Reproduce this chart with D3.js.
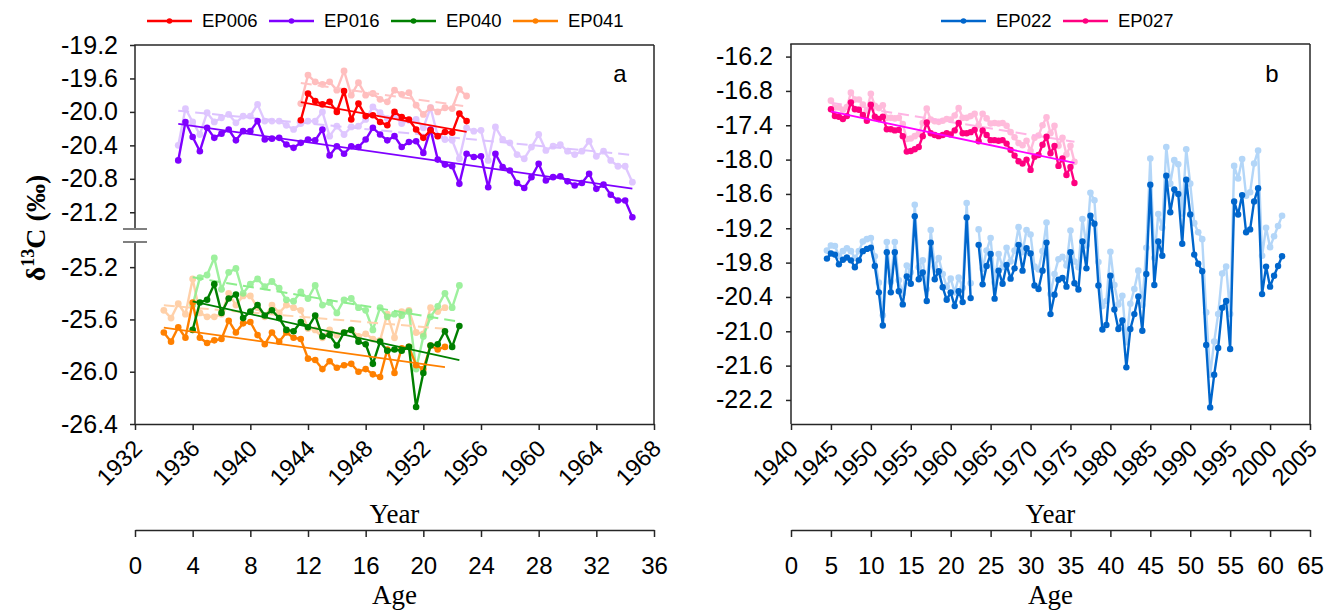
<!DOCTYPE html>
<html><head><meta charset="utf-8">
<script src="https://cdn.jsdelivr.net/npm/d3@7"></script>
<style>body{margin:0;background:#fff}svg{display:block}</style>
</head><body>
<svg id="chart" width="1328" height="613"></svg>
<script>
// ---------------- DATA ----------------
const ep016Years = [1935,1935.5,1936,1936.5,1937,1937.5,1938,1938.5,1939,1939.5,1940,1940.5,1941,1941.5,1942,1942.5,1943,1943.5,1944,1944.5,1945,1945.5,1946,1946.5,1947,1947.5,1948,1948.5,1949,1949.5,1950,1950.5,1951,1951.5,1952,1952.5,1953,1953.5,1954,1954.5,1955,1955.5,1956,1956.5,1957,1957.5,1958,1958.5,1959,1959.5,1960,1960.5,1961,1961.5,1962,1962.5,1963,1963.5,1964,1964.5,1965,1965.5,1966,1966.5];
const ep016Raw = [-20.58,-20.12,-20.30,-20.47,-20.19,-20.31,-20.26,-20.21,-20.34,-20.23,-20.23,-20.11,-20.33,-20.32,-20.31,-20.39,-20.43,-20.37,-20.33,-20.34,-20.21,-20.52,-20.41,-20.50,-20.41,-20.42,-20.33,-20.19,-20.27,-20.34,-20.29,-20.42,-20.36,-20.35,-20.49,-20.21,-20.57,-20.63,-20.65,-20.86,-20.50,-20.54,-20.53,-20.90,-20.50,-20.66,-20.70,-20.85,-20.91,-20.78,-20.62,-20.82,-20.78,-20.77,-20.83,-20.88,-20.85,-20.74,-20.92,-20.87,-20.99,-21.06,-21.06,-21.26];
const ep016Corr = [-20.40,-19.96,-20.12,-20.27,-20.01,-20.12,-20.07,-20.03,-20.13,-20.05,-20.05,-19.91,-20.11,-20.11,-20.11,-20.16,-20.21,-20.14,-20.11,-20.11,-20.00,-20.29,-20.17,-20.27,-20.18,-20.17,-20.09,-19.94,-20.01,-20.08,-20.04,-20.14,-20.10,-20.09,-20.19,-19.95,-20.29,-20.33,-20.34,-20.56,-20.19,-20.23,-20.22,-20.58,-20.18,-20.33,-20.37,-20.51,-20.56,-20.42,-20.27,-20.46,-20.41,-20.39,-20.47,-20.51,-20.47,-20.35,-20.53,-20.47,-20.58,-20.65,-20.65,-20.84];

const ep006Years = [1943.5,1944,1944.5,1945,1945.5,1946,1946.5,1947,1947.5,1948,1948.5,1949,1949.5,1950,1950.5,1951,1951.5,1952,1952.5,1953,1953.5,1954,1954.5,1955];
const ep006Raw = [-20.10,-19.78,-19.87,-19.91,-19.88,-20.00,-19.75,-20.09,-19.90,-20.05,-20.04,-20.12,-20.16,-20.00,-20.06,-20.09,-20.21,-20.31,-20.22,-20.29,-20.24,-20.25,-20.02,-20.11];
const ep006Corr = [-19.90,-19.56,-19.64,-19.67,-19.64,-19.74,-19.51,-19.80,-19.65,-19.80,-19.78,-19.85,-19.88,-19.74,-19.79,-19.77,-19.92,-20.03,-19.95,-20.00,-19.95,-19.96,-19.73,-19.81];

const ep040Years = [1936,1936.5,1937,1937.5,1938,1938.5,1939,1939.5,1940,1940.5,1941,1941.5,1942,1942.5,1943,1943.5,1944,1944.5,1945,1945.5,1946,1946.5,1947,1947.5,1948,1948.5,1949,1949.5,1950,1950.5,1951,1951.5,1952,1952.5,1953,1953.5,1954,1954.5];
const ep040Raw = [-25.68,-25.47,-25.45,-25.33,-25.55,-25.44,-25.41,-25.59,-25.54,-25.49,-25.57,-25.53,-25.59,-25.68,-25.69,-25.62,-25.66,-25.57,-25.73,-25.72,-25.80,-25.70,-25.68,-25.77,-25.79,-25.94,-25.77,-25.84,-25.83,-25.84,-25.81,-26.27,-26.01,-25.80,-25.79,-25.69,-25.81,-25.65];
const ep040Corr = [-25.49,-25.28,-25.26,-25.13,-25.37,-25.24,-25.21,-25.40,-25.33,-25.29,-25.35,-25.31,-25.36,-25.45,-25.46,-25.39,-25.44,-25.34,-25.49,-25.47,-25.55,-25.45,-25.44,-25.51,-25.53,-25.68,-25.51,-25.58,-25.56,-25.57,-25.54,-25.98,-25.73,-25.58,-25.50,-25.40,-25.51,-25.34];

const ep041Years = [1934,1934.5,1935,1935.5,1936,1936.5,1937,1937.5,1938,1938.5,1939,1939.5,1940,1940.5,1941,1941.5,1942,1942.5,1943,1943.5,1944,1944.5,1945,1945.5,1946,1946.5,1947,1947.5,1948,1948.5,1949,1949.5,1950,1950.5,1951,1951.5,1952,1952.5,1953,1953.5];
const ep041Raw = [-25.70,-25.77,-25.66,-25.74,-25.47,-25.74,-25.78,-25.76,-25.75,-25.61,-25.70,-25.63,-25.62,-25.72,-25.79,-25.70,-25.77,-25.70,-25.74,-25.75,-25.90,-25.91,-25.98,-25.92,-25.97,-25.95,-25.94,-26.00,-25.98,-26.02,-26.04,-25.83,-26.01,-25.82,-25.81,-25.95,-25.98,-25.80,-25.83,-25.81];
const ep041Corr = [-25.53,-25.59,-25.48,-25.56,-25.29,-25.55,-25.58,-25.58,-25.56,-25.40,-25.49,-25.42,-25.42,-25.51,-25.58,-25.49,-25.55,-25.49,-25.51,-25.53,-25.67,-25.68,-25.74,-25.68,-25.72,-25.70,-25.68,-25.73,-25.71,-25.75,-25.76,-25.56,-25.74,-25.54,-25.53,-25.70,-25.71,-25.51,-25.54,-25.51];

const ep027Years = [1945,1945.5,1946,1946.5,1947,1947.5,1948,1948.5,1949,1949.5,1950,1950.5,1951,1951.5,1952,1952.5,1953,1953.5,1954,1954.5,1955,1955.5,1956,1956.5,1957,1957.5,1958,1958.5,1959,1959.5,1960,1960.5,1961,1961.5,1962,1962.5,1963,1963.5,1964,1964.5,1965,1965.5,1966,1966.5,1967,1967.5,1968,1968.5,1969,1969.5,1970,1970.5,1971,1971.5,1972,1972.5,1973,1973.5,1974,1974.5,1975,1975.5];
const ep027Raw = [-17.12,-17.24,-17.25,-17.29,-17.24,-17.00,-17.12,-17.13,-17.22,-17.32,-17.04,-17.25,-17.29,-17.25,-17.47,-17.47,-17.49,-17.48,-17.59,-17.86,-17.85,-17.82,-17.78,-17.59,-17.35,-17.54,-17.57,-17.59,-17.57,-17.54,-17.56,-17.49,-17.36,-17.54,-17.54,-17.52,-17.48,-17.68,-17.49,-17.57,-17.66,-17.66,-17.67,-17.66,-17.72,-17.83,-17.93,-18.03,-18.07,-18.00,-18.18,-17.95,-17.92,-17.74,-17.60,-17.89,-17.76,-18.11,-17.98,-18.27,-18.13,-18.41];
const ep027Corr = [-16.97,-17.09,-17.09,-17.13,-17.08,-16.83,-16.95,-16.95,-17.04,-17.14,-16.85,-17.06,-17.10,-17.05,-17.27,-17.27,-17.28,-17.27,-17.38,-17.64,-17.63,-17.59,-17.55,-17.36,-17.11,-17.30,-17.33,-17.34,-17.32,-17.29,-17.30,-17.23,-17.10,-17.27,-17.27,-17.24,-17.20,-17.40,-17.20,-17.28,-17.37,-17.36,-17.37,-17.36,-17.41,-17.52,-17.61,-17.71,-17.75,-17.67,-17.85,-17.62,-17.58,-17.40,-17.26,-17.54,-17.41,-17.76,-17.62,-17.91,-17.76,-18.04];

const ep022Years = [1944.5,1945,1945.5,1946,1946.5,1947,1947.5,1948,1948.5,1949,1949.5,1950,1950.5,1951,1951.5,1952,1952.5,1953,1953.5,1954,1954.5,1955,1955.5,1956,1956.5,1957,1957.5,1958,1958.5,1959,1959.5,1960,1960.5,1961,1961.5,1962,1962.5,1963,1963.5,1964,1964.5,1965,1965.5,1966,1966.5,1967,1967.5,1968,1968.5,1969,1969.5,1970,1970.5,1971,1971.5,1972,1972.5,1973,1973.5,1974,1974.5,1975,1975.5,1976,1976.5,1977,1977.5,1978,1978.5,1979,1979.5,1980,1980.5,1981,1981.5,1982,1982.5,1983,1983.5,1984,1984.5,1985,1985.5,1986,1986.5,1987,1987.5,1988,1988.5,1989,1989.5,1990,1990.5,1991,1991.5,1992,1992.5,1993,1993.5,1994,1994.5,1995,1995.5,1996,1996.5,1997,1997.5,1998,1998.5,1999,1999.5,2000,2000.5,2001,2001.5];
const ep022Raw = [-19.73,-19.64,-19.66,-19.83,-19.75,-19.71,-19.76,-19.88,-19.76,-19.60,-19.56,-19.54,
 -19.86,-20.32,-20.90,-19.62,-20.32,-19.62,-20.30,-20.53,-20.04,-20.17,-18.99,-20.09,-19.97,-20.47,-19.45,-20.09,-19.95,-20.23,-20.45,-20.32,-20.56,-20.30,-20.49,-19.01,-20.42,
 null,
 -19.49,-20.18,-19.86,-19.65,-20.43,-19.94,-20.17,-19.84,-20.08,-19.90,
 -19.49,-19.94,-19.55,-19.64,-20.20,-20.26,-19.94,-19.45,-20.70,-20.36,
 -20.10,-20.07,-20.22,-19.62,-20.16,-20.27,-19.43,-19.90,-18.98,-19.12,
 -20.20,-20.97,-20.89,-20.03,-20.62,-20.96,-20.81,-21.63,-20.96,-20.70,
 -20.39,-20.99,-20.00,-18.44,-20.19,-19.43,-19.68,-18.28,-18.92,-18.52,
 -18.60,-19.47,-18.35,-18.96,-19.66,-19.82,-19.95,-21.24,-22.33,-21.76,
 -21.29,-20.59,-20.47,-21.31,-18.73,-18.96,-18.62,-19.27,-19.22,-18.73,
 -18.50,-20.35,-19.87,-20.22,-20.03,-19.86,-19.69];
const ep022Corr = [-19.59,-19.50,-19.51,-19.68,-19.60,-19.55,-19.60,-19.72,-19.60,-19.43,-19.39,-19.37,
 -19.69,-20.15,-20.72,-19.44,-20.14,-19.44,-20.11,-20.34,-19.85,-19.97,-18.79,-19.88,-19.76,-20.26,-19.23,-19.87,-19.72,-20.00,-20.22,-20.08,-20.32,-20.06,-20.24,-18.76,-20.16,
 null,
 -19.22,-19.91,-19.59,-19.37,-20.15,-19.65,-19.88,-19.54,-19.78,-19.59,
 -19.18,-19.62,-19.23,-19.31,-19.87,-19.92,-19.60,-19.10,-20.35,-20.00,
 -19.74,-19.70,-19.85,-19.24,-19.78,-19.88,-19.04,-19.50,-18.58,-18.71,
 -19.79,-20.56,-20.47,-19.61,-20.19,-20.53,-20.38,-21.19,-20.52,-20.26,
 -19.94,-20.54,-19.54,-17.98,-19.72,-18.95,-19.19,-17.78,-18.42,-18.01,
 -18.08,-18.94,-17.82,-18.42,-19.11,-19.27,-19.39,-20.67,-21.76,-21.18,
 -20.70,-19.99,-19.87,-20.70,-18.11,-18.33,-17.99,-18.63,-18.57,-18.07,
 -17.84,-19.68,-19.19,-19.53,-19.34,-19.16,-18.98];

const yTicksATop = [-21.2,-20.8,-20.4,-20.0,-19.6,-19.2];
const yTicksABot = [-26.4,-26.0,-25.6,-25.2];
const yearTicksA = [1932,1936,1940,1944,1948,1952,1956,1960,1964,1968];
const ageTicksA = [0,4,8,12,16,20,24,28,32,36];
const yTicksB = [-22.2,-21.6,-21.0,-20.4,-19.8,-19.2,-18.6,-18.0,-17.4,-16.8,-16.2];
const yearTicksB = [1940,1945,1950,1955,1960,1965,1970,1975,1980,1985,1990,1995,2000,2005];
const ageTicksB = [0,5,10,15,20,25,30,35,40,45,50,55,60,65];
const legendA = ["EP006","EP016","EP040","EP041"];
const legendB = ["EP022","EP027"];

// ---------------- STYLE ----------------
const FONT = 'Arial, "Liberation Sans", sans-serif';
const SERIF = '"Times New Roman", "Liberation Serif", serif';
const AX = "#262626";
const C = {
  EP006:{dark:"#ff0000", light:"#ffb8b8", trend:"#ff0000", ltrend:"#ffc4c4"},
  EP016:{dark:"#7f00ff", light:"#dcc2ff", trend:"#7f00ff", ltrend:"#dcc2ff"},
  EP040:{dark:"#008000", light:"#8cee8c", trend:"#008000", ltrend:"#8cee8c"},
  EP041:{dark:"#ff8000", light:"#ffc89a", trend:"#ff8000", ltrend:"#ffd2ac"},
  EP022:{dark:"#0066cc", light:"#a6cff7"},
  EP027:{dark:"#ff0080", light:"#ffb4d8", trend:"#ff00ff", ltrend:"#ffb4e4"}
};

const svg = d3.select("#chart");

// scales
const xA = d3.scaleLinear().domain([1932,1968]).range([135,654]);
const ageA = d3.scaleLinear().domain([0,36]).range([135,654]);
const yATop = d3.scaleLinear().domain([-21.4,-19.2]).range([229,45]);
const yABot = d3.scaleLinear().domain([-26.4,-25.0]).range([424,241]);
const xB = d3.scaleLinear().domain([1940,2005]).range([791,1310]);
const ageB = d3.scaleLinear().domain([0,65]).range([791,1310]);
const yB = d3.scaleLinear().domain([-22.62,-15.98]).range([424,44]);

function pairs(xs, ys){ return xs.map((x,i)=>[x, ys[i]]); }

function fit(xs, ys){
  const p = pairs(xs, ys).filter(d=>d[1]!=null);
  const mx = d3.mean(p, d=>d[0]), my = d3.mean(p, d=>d[1]);
  const b = d3.sum(p, d=>(d[0]-mx)*(d[1]-my)) / d3.sum(p, d=>(d[0]-mx)*(d[0]-mx));
  const a = my - b*mx;
  const x0 = d3.min(p, d=>d[0]), x1 = d3.max(p, d=>d[0]);
  return [[x0, a+b*x0],[x1, a+b*x1]];
}

function series(g, xs, ys, xS, yS, color, r, w, op){
  const data = pairs(xs, ys);
  const gg = g.append("g").attr("opacity", op);
  gg.append("path").datum(data)
    .attr("d", d3.line().defined(d=>d[1]!=null).x(d=>xS(d[0])).y(d=>yS(d[1])))
    .attr("fill","none").attr("stroke",color).attr("stroke-width",w).attr("stroke-linejoin","round");
  gg.selectAll("circle").data(data.filter(d=>d[1]!=null)).join("circle")
    .attr("cx", d=>xS(d[0])).attr("cy", d=>yS(d[1])).attr("r", r).attr("fill", color);
}

function trendLine(g, xs, ys, xS, yS, color, w, dash){
  const t = fit(xs, ys);
  g.append("path").datum(t)
    .attr("d", d3.line().x(d=>xS(d[0])).y(d=>yS(d[1])))
    .attr("fill","none").attr("stroke",color).attr("stroke-width",w)
    .attr("stroke-dasharray", dash ? "11,6" : null);
}

function styleAxis(sel, fs){
  sel.selectAll(".tick text").attr("font-family",FONT).attr("font-size",fs).attr("fill","#000");
  sel.selectAll(".tick line").attr("stroke",AX).attr("stroke-width",1.5);
  sel.select(".domain").attr("stroke",AX).attr("stroke-width",1.5);
}

function line(x1,y1,x2,y2,col,w){
  svg.append("line").attr("x1",x1).attr("y1",y1).attr("x2",x2).attr("y2",y2)
     .attr("stroke",col||AX).attr("stroke-width",w||1.5);
}

// ---------------- PANEL A ----------------
const gA = svg.append("g");
series(gA, ep016Years, ep016Corr, xA, yATop, C.EP016.light, 3.4, 2.4, 0.9);
series(gA, ep006Years, ep006Corr, xA, yATop, C.EP006.light, 3.4, 2.4, 0.9);
series(gA, ep041Years, ep041Corr, xA, yABot, C.EP041.light, 3.4, 2.4, 0.85);
series(gA, ep040Years, ep040Corr, xA, yABot, C.EP040.light, 3.4, 2.4, 0.85);
trendLine(gA, ep016Years, ep016Corr, xA, yATop, C.EP016.ltrend, 2, true);
trendLine(gA, ep006Years, ep006Corr, xA, yATop, C.EP006.ltrend, 2, true);
trendLine(gA, ep041Years, ep041Corr, xA, yABot, C.EP041.ltrend, 2, true);
trendLine(gA, ep040Years, ep040Corr, xA, yABot, C.EP040.ltrend, 2, true);
series(gA, ep016Years, ep016Raw, xA, yATop, C.EP016.dark, 3.3, 2.4, 1);
series(gA, ep006Years, ep006Raw, xA, yATop, C.EP006.dark, 3.3, 2.4, 1);
series(gA, ep041Years, ep041Raw, xA, yABot, C.EP041.dark, 3.3, 2.4, 1);
series(gA, ep040Years, ep040Raw, xA, yABot, C.EP040.dark, 3.3, 2.4, 1);
trendLine(gA, ep016Years, ep016Raw, xA, yATop, C.EP016.trend, 1.8, false);
trendLine(gA, ep006Years, ep006Raw, xA, yATop, C.EP006.trend, 1.8, false);
trendLine(gA, ep041Years, ep041Raw, xA, yABot, C.EP041.trend, 1.8, false);
trendLine(gA, ep040Years, ep040Raw, xA, yABot, C.EP040.trend, 1.8, false);

const ayt = svg.append("g").attr("transform","translate(135,0)")
  .call(d3.axisLeft(yATop).tickValues(yTicksATop).tickFormat(d=>d.toFixed(1)).tickSize(5).tickPadding(12));
ayt.select(".domain").remove(); styleAxis(ayt, 25);
const ayb = svg.append("g").attr("transform","translate(135,0)")
  .call(d3.axisLeft(yABot).tickValues(yTicksABot).tickFormat(d=>d.toFixed(1)).tickSize(5).tickPadding(12));
ayb.select(".domain").remove(); styleAxis(ayb, 25);
line(135,45,135,229); line(135,242,135,424);
line(123,229,147,229,"#808080",2); line(123,242,147,242,"#808080",2);
line(134.25,45,654,45); line(654,45,654,424.75);

const axA = svg.append("g").attr("transform","translate(0,424)")
  .call(d3.axisBottom(xA).tickValues(yearTicksA).tickFormat(d3.format("d")).tickSize(6).tickSizeOuter(0));
styleAxis(axA, 23.5);
axA.selectAll(".tick text").attr("y",0).attr("dy",null).attr("text-anchor","end")
  .attr("transform","translate(8,26) rotate(-45)");

const agA = svg.append("g").attr("transform","translate(0,530)")
  .call(d3.axisBottom(ageA).tickValues(ageTicksA).tickSize(7).tickSizeOuter(0).tickPadding(20));
styleAxis(agA, 24);

// ---------------- PANEL B ----------------
const gB = svg.append("g");
series(gB, ep022Years, ep022Corr, xB, yB, C.EP022.light, 3.3, 2.4, 0.85);
series(gB, ep022Years, ep022Raw, xB, yB, C.EP022.dark, 3.2, 2.4, 1);
series(gB, ep027Years, ep027Corr, xB, yB, C.EP027.light, 3.3, 2.4, 0.9);
trendLine(gB, ep027Years, ep027Corr, xB, yB, C.EP027.ltrend, 2, true);
series(gB, ep027Years, ep027Raw, xB, yB, C.EP027.dark, 3.2, 2.4, 1);
trendLine(gB, ep027Years, ep027Raw, xB, yB, C.EP027.trend, 1.8, false);

const ayB = svg.append("g").attr("transform","translate(791,0)")
  .call(d3.axisLeft(yB).tickValues(yTicksB).tickFormat(d=>d.toFixed(1)).tickSize(5).tickPadding(13));
ayB.select(".domain").remove(); styleAxis(ayB, 25);
line(791,44,791,424);
line(790.25,44,1310,44); line(1310,44,1310,424.75);

const axB = svg.append("g").attr("transform","translate(0,424)")
  .call(d3.axisBottom(xB).tickValues(yearTicksB).tickFormat(d3.format("d")).tickSize(6).tickSizeOuter(0));
styleAxis(axB, 23.5);
axB.selectAll(".tick text").attr("y",0).attr("dy",null).attr("text-anchor","end")
  .attr("transform","translate(8,26) rotate(-45)");

const agB = svg.append("g").attr("transform","translate(0,530)")
  .call(d3.axisBottom(ageB).tickValues(ageTicksB).tickSize(7).tickSizeOuter(0).tickPadding(20));
styleAxis(agB, 24);

// ---------------- LABELS ----------------
function txt(x,y,s,fs,fam,anchor,weight){
  return svg.append("text").attr("x",x).attr("y",y).text(s).attr("font-size",fs)
    .attr("font-family",fam).attr("text-anchor",anchor||"middle").attr("font-weight",weight||"normal").attr("fill","#000");
}
txt(394.5,523,"Year",27,SERIF); txt(394.5,604,"Age",27,SERIF);
txt(1050.5,523,"Year",27,SERIF); txt(1050.5,604,"Age",27,SERIF);
txt(620,82,"a",24,FONT); txt(1272,82,"b",24,FONT);

const yl = svg.append("text").attr("transform","translate(45,228) rotate(-90)")
  .attr("text-anchor","middle").attr("font-family",SERIF).attr("font-weight","bold").attr("font-size",28).attr("fill","#000");
yl.append("tspan").text("δ");
yl.append("tspan").attr("dy",-11).attr("font-size",18).text("13");
yl.append("tspan").attr("dy",11).text("C (‰)");

function legend(names, x0){
  names.forEach((n,i)=>{
    const x = x0 + i*122;
    line(x,21,x+45,21,C[n].dark,2.5);
    svg.append("circle").attr("cx",x+22.5).attr("cy",21).attr("r",2.8).attr("fill",C[n].dark);
    svg.append("text").attr("x",x+55).attr("y",21).attr("dy","0.35em").text(n)
      .attr("font-family",FONT).attr("font-size",18.5).attr("fill","#000");
  });
}
legend(legendA, 147);
legend(legendB, 941);
</script>
</body></html>
